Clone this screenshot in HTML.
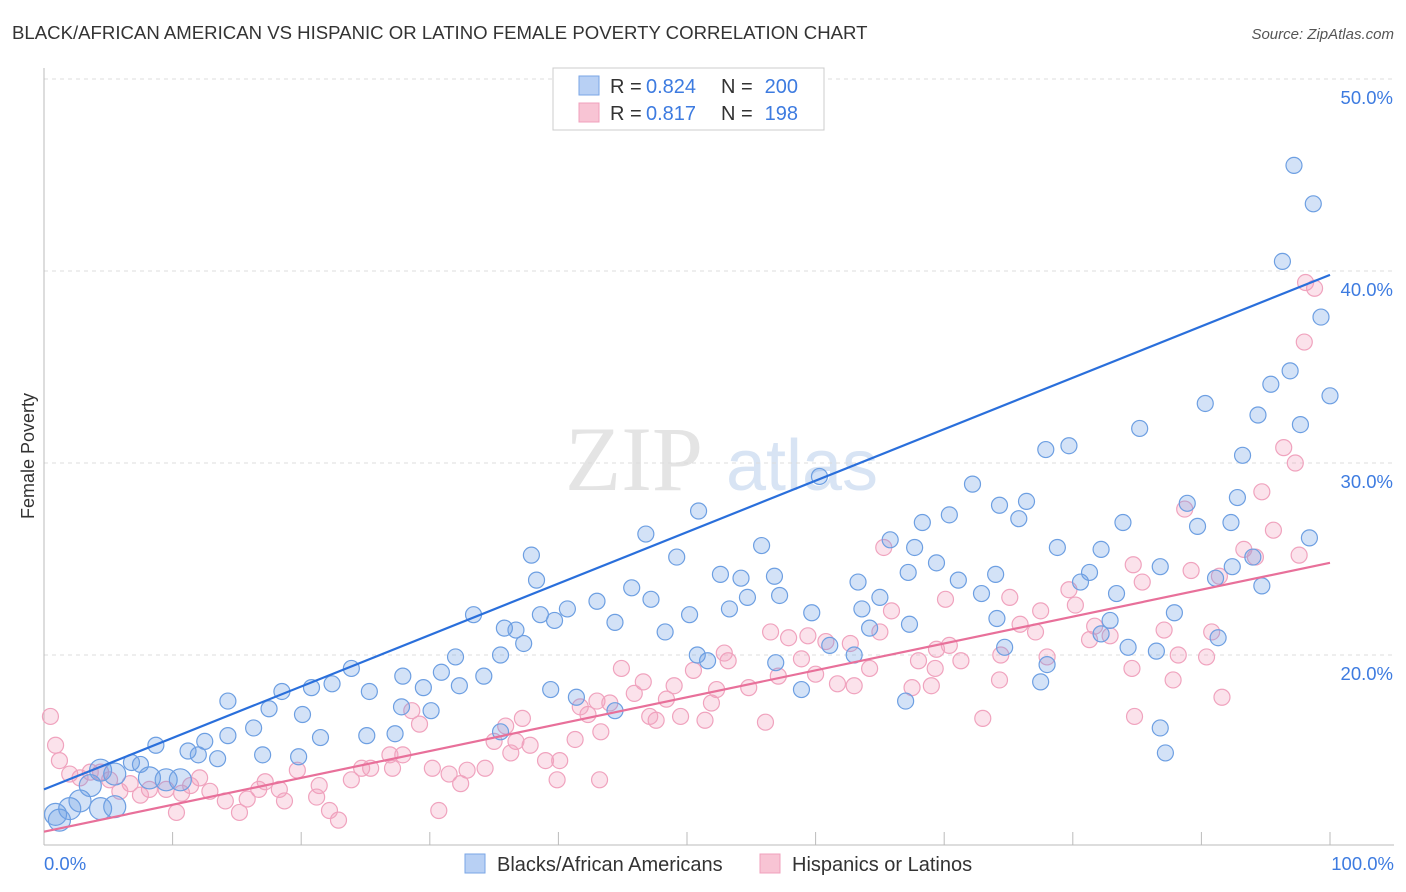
<!DOCTYPE html>
<html><head><meta charset="utf-8"><style>
body{margin:0;background:#fff;font-family:"Liberation Sans",sans-serif;}
#wrap{position:relative;width:1406px;height:892px;overflow:hidden;}
</style></head><body>
<div id="wrap">
<svg id="chart" width="1406" height="892"></svg>
</div>
<script>
const blueX=[97.2,98.7,96.3,99.3,100,96.9,95.4,94.4,97.7,90.3,85.2,93.2,77.9,79.7,72.2,60.3,50.9,46.8,88.9,92.3,98.4,92.8,74.3,76.4,75.8,68.3,70.4,65.8,67.7,55.8,49.2,37.9,38.3,43.0,45.7,47.2,52.6,54.2,56.8,54.7,57.2,59.7,53.3,50.2,48.3,44.4,40.7,39.7,38.6,36.7,35.8,33.4,37.3,35.5,32.0,30.9,27.9,29.5,32.3,34.2,23.9,22.4,25.3,27.8,30.1,20.8,18.5,17.5,14.3,16.3,20.1,21.5,25.1,27.3,14.3,12.5,12.0,13.5,8.7,7.5,11.2,17.0,19.8,6.8,8.2,9.5,10.6,4.4,5.5,3.6,2.8,2.0,0.9,1.2,4.4,5.5,63.3,63.6,65.0,67.2,69.4,71.1,72.9,74.0,80.6,81.3,83.4,82.9,82.2,84.3,86.8,87.9,89.7,91.1,94.7,91.3,86.8,87.2,86.5,82.2,78.8,83.9,74.7,78.0,77.5,67.0,61.1,63.0,58.9,56.9,50.8,51.6,39.4,41.4,44.4,35.5,64.2,67.3,74.1,94.0,92.4];
const blueY=[45.5,43.5,40.5,37.6,33.5,34.8,34.1,32.5,32.0,33.1,31.8,30.4,30.7,30.9,28.9,29.3,27.5,26.3,27.9,26.9,26.1,28.2,27.8,28.0,27.1,26.9,27.3,26.0,25.6,25.7,25.1,25.2,23.9,22.8,23.5,22.9,24.2,24.0,24.1,23.0,23.1,22.2,22.4,22.1,21.2,21.7,22.4,21.8,22.1,21.3,21.4,22.1,20.6,20.0,19.9,19.1,18.9,18.3,18.4,18.9,19.3,18.5,18.1,17.3,17.1,18.3,18.1,17.2,17.6,16.2,16.9,15.7,15.8,15.9,15.8,15.5,14.8,14.6,15.3,14.3,15.0,14.8,14.7,14.4,13.6,13.5,13.5,14.0,13.8,13.2,12.4,12.0,11.7,11.4,12.0,12.1,23.8,22.4,23.0,24.3,24.8,23.9,23.2,24.2,23.8,24.3,23.2,21.8,21.1,20.4,24.6,22.2,26.7,24.0,23.6,20.9,16.2,14.9,20.2,25.5,25.6,26.9,20.4,19.5,18.6,17.6,20.5,20.0,18.2,19.6,20.0,19.7,18.2,17.8,17.1,16.0,21.4,21.6,21.9,25.1,24.6];
const pinkX=[98.1,98.8,98.0,96.4,97.3,94.7,95.6,97.6,93.3,94.2,91.4,88.7,90.8,90.4,91.6,87.8,88.2,87.1,84.6,84.8,84.7,85.4,82.9,81.7,81.3,79.7,80.2,78.0,77.1,75.1,75.9,74.4,74.3,73.0,71.3,70.4,70.1,69.4,69.3,69.0,68.0,67.5,65.9,65.3,65.0,64.2,63.0,61.7,62.7,60.8,60.0,59.4,58.9,57.9,57.1,56.5,56.1,54.8,53.2,52.9,52.3,51.9,51.4,50.5,49.5,49.0,48.4,47.6,47.1,46.6,45.9,44.9,44.0,43.3,43.0,42.3,41.7,41.3,39.9,40.1,39.0,37.8,37.2,36.7,35.9,36.3,35.0,34.3,32.9,32.4,31.5,30.7,30.2,29.2,28.6,27.9,27.1,26.9,25.4,24.7,23.9,22.9,22.2,21.4,21.2,19.7,18.7,18.3,17.2,16.7,15.8,15.2,14.1,12.9,12.1,11.4,10.7,10.3,9.5,8.2,7.5,6.7,5.9,5.1,4.4,3.6,2.8,2.0,1.2,0.9,0.5,43.2,89.2,77.5];
const pinkY=[39.4,39.1,36.3,30.8,30.0,28.5,26.5,25.2,25.5,25.1,24.1,27.6,21.2,19.9,17.8,18.7,20.0,21.3,19.3,16.8,24.7,23.8,21.0,21.5,20.8,23.4,22.6,19.9,21.2,23.0,21.6,20.0,18.7,16.7,19.7,20.5,22.9,20.3,19.3,18.4,19.7,18.3,22.3,25.6,21.2,19.3,18.4,18.5,20.6,20.7,19.0,21.0,19.8,20.9,18.9,21.2,16.5,18.3,19.7,20.1,18.2,17.5,16.6,19.2,16.8,18.4,17.7,16.6,16.8,18.6,18.0,19.3,17.5,16.0,17.6,16.9,17.3,15.6,13.5,14.5,14.5,15.3,16.7,15.5,16.3,14.9,15.5,14.1,14.0,13.3,13.8,11.9,14.1,16.4,17.1,14.8,14.1,14.8,14.1,14.1,13.5,11.4,11.9,13.2,12.6,14.0,12.4,13.0,13.4,13.0,12.5,11.8,12.4,12.9,13.6,13.2,12.8,11.8,13.0,13.0,12.7,13.3,12.9,13.5,13.9,13.9,13.6,13.8,14.5,15.3,16.8,13.5,24.4,22.3];
const blueTrend=[13.0,39.8];
const pinkTrend=[10.8,24.8];
const yTicks=[20,30,40,50];
const xTickLabels=["0.0%","100.0%"];

const NS="http://www.w3.org/2000/svg";
const svg=document.getElementById('chart');
const X0=44,X1=1330,Y50=79,PX=19.2;
const sx=v=>X0+(X1-X0)*v/100;
const sy=v=>Y50+(50-v)*PX;
function mk(tag,attrs,parent){const e=document.createElementNS(NS,tag);for(const k in attrs)e.setAttribute(k,attrs[k]);(parent||svg).appendChild(e);return e;}

let t=mk('text',{x:12,y:39,'font-size':18.6,fill:'#333'});t.textContent="BLACK/AFRICAN AMERICAN VS HISPANIC OR LATINO FEMALE POVERTY CORRELATION CHART";


t=mk('text',{x:1394,y:39,'font-size':15,fill:'#555','font-style':'italic','text-anchor':'end'});t.textContent="Source: ZipAtlas.com";



t=mk('text',{x:634,y:490,'font-size':92,fill:'#e4e4e4','font-family':'Liberation Serif, serif','text-anchor':'middle'});t.textContent="ZIP";


t=mk('text',{x:802,y:490,'font-size':72,fill:'#d8e4f4','text-anchor':'middle'});t.textContent="atlas";



yTicks.forEach(v=>{
  const g=mk('line',{x1:X0,x2:1394,y1:sy(v),y2:sy(v),stroke:'#dcdcdc','stroke-dasharray':'4,4'});
  
  
  const l=mk('text',{x:1393,y:sy(v)+25,'font-size':18.5,fill:'#3d7be0','text-anchor':'end'});l.textContent=v.toFixed(1)+"%";
  
  
});
let a=mk('line',{x1:X0,x2:X0,y1:68,y2:845,stroke:'#bbb'});


a=mk('line',{x1:X0,x2:1394,y1:845,y2:845,stroke:'#bbb'});


for(let i=0;i<=10;i++){
  const tk=mk('line',{x1:sx(i*10),x2:sx(i*10),y1:832,y2:845,stroke:'#bbb'});
  
  
}
t=mk('text',{x:44,y:870,'font-size':18.5,fill:'#3d7be0'});t.textContent=xTickLabels[0];


t=mk('text',{x:1394,y:870,'font-size':18.5,fill:'#3d7be0','text-anchor':'end'});t.textContent=xTickLabels[1];


t=mk('text',{x:34,y:456,'font-size':18,fill:'#333','text-anchor':'middle',transform:'rotate(-90 34 456)'});t.textContent="Female Poverty";



pinkX.forEach((x,i)=>{
  const c=mk('circle',{cx:sx(x),cy:sy(pinkY[i]),r:8,fill:'rgba(242,160,190,0.3)',stroke:'#f0a3be','stroke-width':1.2});
  
  
});
blueX.forEach((x,i)=>{
  const c=mk('circle',{cx:sx(x),cy:sy(blueY[i]),r:i>=84&&i<96?11:8,fill:'rgba(110,160,230,0.3)',stroke:'#6d9fe2','stroke-width':1.2});
  
  
});
let ln=mk('line',{x1:sx(0),y1:sy(blueTrend[0]),x2:sx(100),y2:sy(blueTrend[1]),stroke:'#2a6fdb','stroke-width':2.2});


ln=mk('line',{x1:sx(0),y1:sy(pinkTrend[0]),x2:sx(100),y2:sy(pinkTrend[1]),stroke:'#e8709a','stroke-width':2.2});



const lg=mk('g',{});


mk('rect',{x:553,y:68,width:271,height:62,fill:'#fff',stroke:'#ccc'},lg);
mk('rect',{x:579,y:76,width:20,height:19,fill:'#b8d0f4',stroke:'#7aa6e6'},lg);
mk('rect',{x:579,y:103,width:20,height:19,fill:'#f8c4d4',stroke:'#f0a0bc'},lg);
[[93,'0.824','200'],[120,'0.817','198']].forEach((r,i)=>{
  let a1=mk('text',{x:610,y:r[0],'font-size':20,fill:'#333'},lg);a1.textContent="R =";
  let a2=mk('text',{x:646,y:r[0],'font-size':20,fill:'#3d7be0'},lg);a2.textContent=r[1];
  let a3=mk('text',{x:721,y:r[0],'font-size':20,fill:'#333'},lg);a3.textContent="N =";
  let a4=mk('text',{x:798,y:r[0],'font-size':20,fill:'#3d7be0','text-anchor':'end'},lg);a4.textContent=r[2];
});
const bl=mk('g',{});


mk('rect',{x:465,y:854,width:20,height:19,fill:'#b8d0f4',stroke:'#7aa6e6'},bl);
let b1=mk('text',{x:497,y:871,'font-size':20,fill:'#333'},bl);b1.textContent="Blacks/African Americans";


mk('rect',{x:760,y:854,width:20,height:19,fill:'#f8c4d4',stroke:'#f0a0bc'},bl);
let b2=mk('text',{x:792,y:871,'font-size':20,fill:'#333'},bl);b2.textContent="Hispanics or Latinos";


</script>
</body></html>
